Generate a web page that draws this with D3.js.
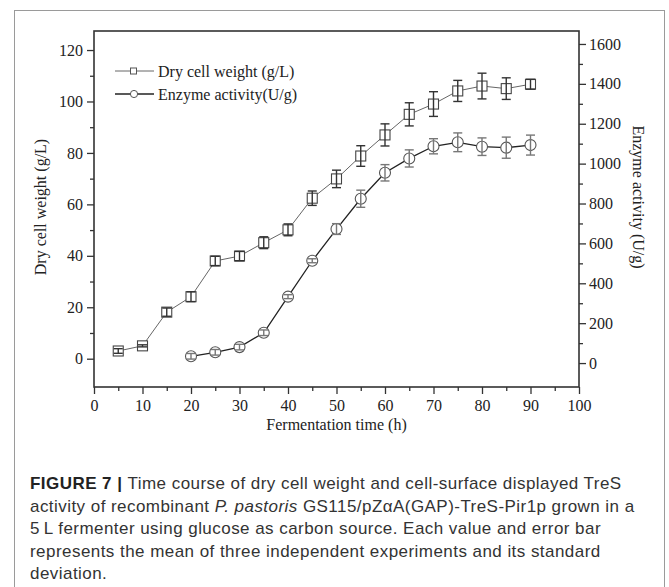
<!DOCTYPE html>
<html lang="en">
<head>
<meta charset="UTF-8">
<title>Figure 7</title>
<script src="https://cdnjs.cloudflare.com/ajax/libs/d3/7.8.5/d3.min.js"></script>
<style>
  body { margin: 0; padding: 0; background: #fff; }
  svg { display: block; }
  .chart text { font-family: "Liberation Serif", "Times New Roman", serif; fill: #222; }
  .caption text { font-family: "Liberation Sans", Arial, sans-serif; fill: #333; font-size: 17px; letter-spacing: 0.45px; }
</style>
</head>
<body>
<div id="fig"></div>
<script>
// data
const hours = [5, 10, 15, 20, 25, 30, 35, 40, 45, 50, 55, 60, 65, 70, 75, 80, 85, 90];
const dryWeight = [3.0, 5.0, 18.1, 24.1, 38.0, 39.9, 45.1, 50.1, 62.4, 69.9, 78.8, 87.0, 95.0, 99.0, 104.1, 106.0, 105.0, 106.7];
const dryWeightSd = [0.9, 0.4, 1.6, 1.9, 1.8, 1.8, 2.3, 2.3, 2.8, 3.4, 4.0, 4.3, 4.5, 4.8, 4.1, 5.0, 4.2, 1.9];

const enzHours = [20, 25, 30, 35, 40, 45, 50, 55, 60, 65, 70, 75, 80, 85, 90];
const enzyme = [34, 54, 80, 152, 333, 513, 672, 824, 954, 1026, 1087, 1107, 1085, 1080, 1093];
const enzymeSd = [14, 14, 14, 14, 10, 10, 27, 43, 41, 43, 38, 47, 44, 53, 50];

const xTicks = [0, 10, 20, 30, 40, 50, 60, 70, 80, 90, 100];
const leftTicks = [0, 20, 40, 60, 80, 100, 120];
const rightTicks = [0, 200, 400, 600, 800, 1000, 1200, 1400, 1600];

const legendLabels = ["Dry cell weight (g/L)", "Enzyme activity(U/g)"];
const captionLines = [
  [["b", "FIGURE 7 | "], ["n", "Time course of dry cell weight and cell-surface displayed TreS"]],
  [["n", "activity of recombinant "], ["i", "P. pastoris"], ["n", " GS115/pZαA(GAP)-TreS-Pir1p grown in a"]],
  [["n", "5\u2009L fermenter using glucose as carbon source. Each value and error bar"]],
  [["n", "represents the mean of three independent experiments and its standard"]],
  [["n", "deviation."]]
];

const W = 669, H = 587;
const plot = { left: 94, right: 579, top: 31, bottom: 387 };

const svg = d3.select("#fig").append("svg")
  .attr("width", W).attr("height", H);

// outer frame of the figure
svg.append("rect")
  .attr("x", 14.5).attr("y", 10.5)
  .attr("width", 650).attr("height", 600)
  .attr("fill", "none").attr("stroke", "#9a9a9a").attr("stroke-width", 1);

const g = svg.append("g").attr("class", "chart");

const x = d3.scaleLinear().domain([0, 100]).range([plot.left, plot.right]);
const yL = d3.scaleLinear().domain([-11, 127.4]).range([plot.bottom, plot.top]);
const yR = d3.scaleLinear().domain([-120, 1665]).range([plot.bottom, plot.top]);

// axes
const axisStyle = sel => {
  sel.attr("font-family", '"Liberation Serif", serif').attr("font-size", 16);
  sel.select(".domain").remove();
  sel.selectAll(".tick line").attr("stroke", "#333").attr("stroke-width", 1.3);
  sel.selectAll(".tick text").attr("fill", "#222");
};
const minorStyle = sel => {
  sel.select(".domain").remove();
  sel.selectAll(".tick line").attr("stroke", "#333").attr("stroke-width", 1.3);
  sel.selectAll(".tick text").remove();
};

g.append("g").attr("transform", `translate(0,${plot.bottom})`)
  .call(d3.axisBottom(x).tickValues(d3.range(5, 100, 10)).tickSize(4)).call(minorStyle);
g.append("g").attr("transform", `translate(0,${plot.bottom})`)
  .call(d3.axisBottom(x).tickValues(xTicks).tickSize(7).tickPadding(6).tickFormat(d3.format("d"))).call(axisStyle);

g.append("g").attr("transform", `translate(${plot.left},0)`)
  .call(d3.axisLeft(yL).tickValues(d3.range(10, 127, 20)).tickSize(4)).call(minorStyle);
g.append("g").attr("transform", `translate(${plot.left},0)`)
  .call(d3.axisLeft(yL).tickValues(leftTicks).tickSize(7).tickPadding(4).tickFormat(d3.format("d"))).call(axisStyle);

g.append("g").attr("transform", `translate(${plot.right},0)`)
  .call(d3.axisRight(yR).tickValues(d3.range(100, 1665, 200)).tickSize(4)).call(minorStyle);
g.append("g").attr("transform", `translate(${plot.right},0)`)
  .call(d3.axisRight(yR).tickValues(rightTicks).tickSize(7).tickPadding(3).tickFormat(d3.format("d"))).call(axisStyle);

// plot frame
g.append("rect")
  .attr("x", plot.left).attr("y", plot.top)
  .attr("width", plot.right - plot.left).attr("height", plot.bottom - plot.top)
  .attr("fill", "none").attr("stroke", "#333").attr("stroke-width", 1.6);

// axis titles
g.append("text")
  .attr("x", (plot.left + plot.right) / 2).attr("y", 430)
  .attr("text-anchor", "middle").style("font-size", "16px")
  .text("Fermentation time (h)");
g.append("text")
  .attr("transform", "translate(46,207) rotate(-90)")
  .attr("text-anchor", "middle").style("font-size", "16px")
  .text("Dry cell weight (g/L)");
g.append("text")
  .attr("transform", "translate(633,197) rotate(90)")
  .attr("text-anchor", "middle").style("font-size", "16px")
  .text("Enzyme activity (U/g)");

// series
const dcw = hours.map((h, i) => ({ x: h, y: dryWeight[i], sd: dryWeightSd[i] }));
const enz = enzHours.map((h, i) => ({ x: h, y: enzyme[i], sd: enzymeSd[i] }));

const lineL = d3.line().x(d => x(d.x)).y(d => yL(d.y));
const lineR = d3.line().x(d => x(d.x)).y(d => yR(d.y));

g.append("path").datum(dcw).attr("d", lineL)
  .attr("fill", "none").attr("stroke", "#666").attr("stroke-width", 1);
g.append("path").datum(enz).attr("d", lineR)
  .attr("fill", "none").attr("stroke", "#222").attr("stroke-width", 1.3);

function errorBars(data, yScale, color) {
  const eb = g.append("g").attr("stroke", color).attr("stroke-width", 1.4).attr("fill", "none");
  const cap = 4.5;
  data.forEach(d => {
    const cx = x(d.x), y1 = yScale(d.y - d.sd), y2 = yScale(d.y + d.sd);
    eb.append("line").attr("x1", cx).attr("x2", cx).attr("y1", y1).attr("y2", y2);
    eb.append("line").attr("x1", cx - cap).attr("x2", cx + cap).attr("y1", y1).attr("y2", y1);
    eb.append("line").attr("x1", cx - cap).attr("x2", cx + cap).attr("y1", y2).attr("y2", y2);
  });
}

// enzyme markers
g.append("g").selectAll("circle").data(enz).join("circle")
  .attr("cx", d => x(d.x)).attr("cy", d => yR(d.y)).attr("r", 5.5)
  .attr("fill", "#fff").attr("stroke", "#555").attr("stroke-width", 1.1);
errorBars(enz, yR, "#777");

// dry weight markers
g.append("g").selectAll("rect").data(dcw).join("rect")
  .attr("x", d => x(d.x) - 5).attr("y", d => yL(d.y) - 5)
  .attr("width", 10).attr("height", 10)
  .attr("fill", "#fff").attr("stroke", "#444").attr("stroke-width", 1.1);
errorBars(dcw, yL, "#333");

// legend
const leg = g.append("g");
const legY = [71, 94];
legendLabels.forEach((lab, i) => {
  const row = leg.append("g").attr("transform", `translate(0,${legY[i]})`);
  row.append("line").attr("x1", 115).attr("x2", 154).attr("y1", 0).attr("y2", 0)
    .attr("stroke", i === 0 ? "#666" : "#222").attr("stroke-width", i === 0 ? 1 : 1.3);
  if (i === 0) {
    row.append("rect").attr("x", 130.5).attr("y", -3).attr("width", 6).attr("height", 6)
      .attr("fill", "#fff").attr("stroke", "#555");
  } else {
    row.append("circle").attr("cx", 134).attr("cy", 0).attr("r", 3.6)
      .attr("fill", "#fff").attr("stroke", "#555");
  }
  row.append("text").attr("x", 158).attr("y", 5.5).style("font-size", "16px").text(lab);
});

// caption
const cap = svg.append("g").attr("class", "caption");
captionLines.forEach((parts, i) => {
  const t = cap.append("text").attr("x", 30).attr("y", 489 + i * 22.5);
  parts.forEach(([kind, str]) => {
    const ts = t.append("tspan").text(str);
    if (kind === "b") ts.style("font-weight", "bold").style("fill", "#222");
    if (kind === "i") ts.style("font-style", "italic");
  });
});
</script>
</body>
</html>
